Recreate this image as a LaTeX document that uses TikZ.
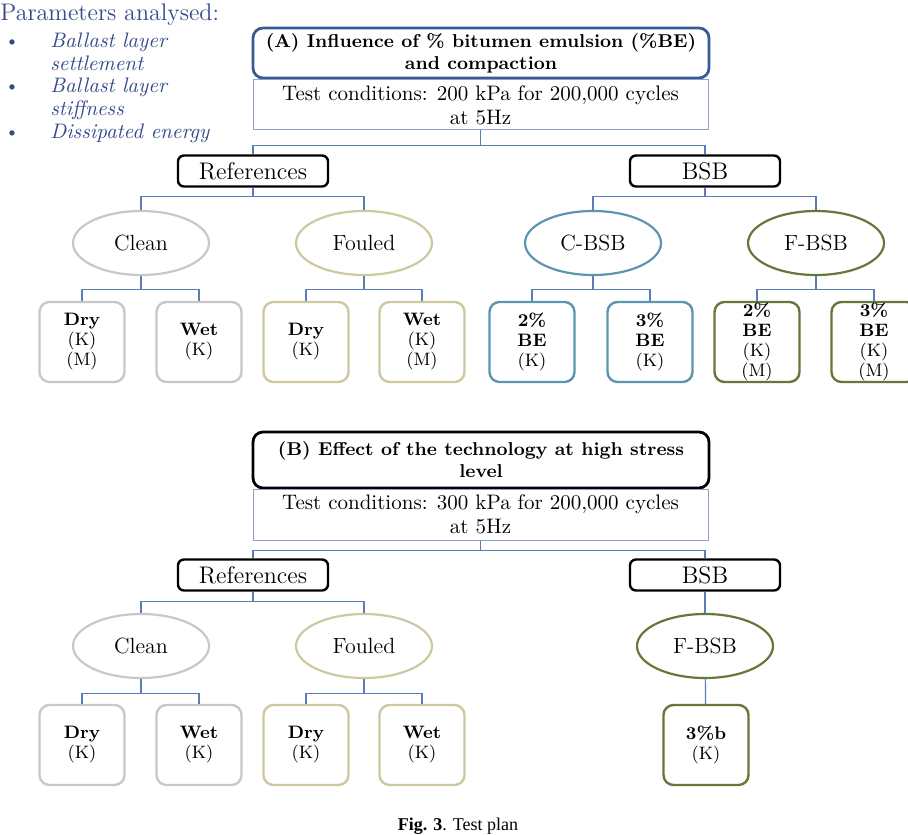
\documentclass[tikz,border=0pt]{standalone}
\usepackage{fontspec}
\newfontfamily\capfont{Liberation Serif}
\usetikzlibrary{positioning, shapes.geometric}

\definecolor{navy}{HTML}{34498A}
\definecolor{linkblue}{HTML}{5A7DB5}
\definecolor{condblue}{HTML}{8DA2C8}
\definecolor{headblue}{HTML}{3A5A96}
\definecolor{cleangray}{HTML}{C8C8C8}
\definecolor{fouledtan}{HTML}{CEC8A0}
\definecolor{cbsbteal}{HTML}{5C95AE}
\definecolor{fbsbolive}{HTML}{65783A}

\begin{document}
\begin{tikzpicture}[x=0.5pt, y=-0.5pt,
    link/.style={draw=linkblue, line width=0.6pt},
    head/.style={draw=#1, rounded corners=5pt, line width=1.4pt, minimum width=228pt,
        inner sep=1pt, align=center, font=\fontsize{9.3}{11}\selectfont\bfseries},
    cond/.style={draw=condblue, line width=0.5pt, minimum width=227.5pt, minimum height=25pt,
        inner sep=1pt, align=center, font=\fontsize{10.5}{12}\selectfont},
    group/.style={draw=black, rounded corners=3pt, line width=1.2pt, minimum width=75pt,
        minimum height=15.5pt, inner sep=0pt, font=\fontsize{12}{13}\selectfont},
    kind/.style={ellipse, draw=#1, line width=1.1pt, minimum width=68pt, minimum height=32pt,
        inner sep=0pt, font=\fontsize{11}{12}\selectfont},
    leaf/.style={draw=#1, rounded corners=5pt, line width=1.2pt, minimum width=42.5pt,
        minimum height=40pt, inner sep=0pt, align=center, font=\fontsize{9}{10}\selectfont},
    param/.style={anchor=north west, align=left, inner sep=0pt, text=navy,
        font=\fontsize{10.5}{11.5}\selectfont\itshape},
    dot/.style={text=navy, inner sep=0pt, font=\fontsize{9}{10}\selectfont}]
    \useasboundingbox (0,0) rectangle (908,834);

    % parameters analysed
    \node[anchor=west, inner sep=0pt, text=navy, font=\fontsize{12}{13}\selectfont] (params) at (0,15) {Parameters analysed:};
    \node[dot] (d1) at (12,43) {\textbullet};
    \node[dot] (d2) at (12,88) {\textbullet};
    \node[dot] (d3) at (12,134) {\textbullet};
    \node[param] (p1) at (50,33) {Ballast layer\\settlement};
    \node[param] (p2) at (50,78) {Ballast layer\\stiffness};
    \node[param] (p3) at (50,124) {Dissipated energy};

    % (A)
    \node[head=headblue, minimum height=25pt] (headA) at (481,53) {(A) Influence of \% bitumen emulsion (\%BE)\\and compaction};
    \node[cond] (condA) at (480.5,105) {Test conditions: 200 kPa for 200,000 cycles\\at 5Hz};
    \node[group] (refA) at (253,171) {References};
    \node[group] (bsbA) at (705,171) {BSB};
    \node[kind=cleangray] (cleanA) at (141,243) {Clean};
    \node[kind=fouledtan] (fouledA) at (364,243) {Fouled};
    \node[kind=cbsbteal] (cbsbA) at (593,243) {C-BSB};
    \node[kind=fbsbolive] (fbsbA) at (816,243) {F-BSB};
    \node[leaf=cleangray] (cdryA) at (82,342) {\textbf{Dry}\\(K)\\(M)};
    \node[leaf=cleangray] (cwetA) at (199,342) {\textbf{Wet}\\(K)};
    \node[leaf=fouledtan] (fdryA) at (306,342) {\textbf{Dry}\\(K)};
    \node[leaf=fouledtan] (fwetA) at (422,342) {\textbf{Wet}\\(K)\\(M)};
    \node[leaf=cbsbteal] (c2A) at (532,342) {\textbf{2\%}\\\textbf{BE}\\(K)};
    \node[leaf=cbsbteal] (c3A) at (650,342) {\textbf{3\%}\\\textbf{BE}\\(K)};
    \node[leaf=fbsbolive] (f2A) at (757,342) {\textbf{2\%}\\\textbf{BE}\\(K)\\(M)};
    \node[leaf=fbsbolive] (f3A) at (874,342) {\textbf{3\%}\\\textbf{BE}\\(K)\\(M)};

    \draw[link] (condA.south) -- ++(0,15) -| (refA.north);
    \draw[link] (condA.south) -- ++(0,15) -| (bsbA.north);
    \draw[link] (refA.south) -- ++(0,9) -| (cleanA.north);
    \draw[link] (refA.south) -- ++(0,9) -| (fouledA.north);
    \draw[link] (bsbA.south) -- ++(0,9) -| (cbsbA.north);
    \draw[link] (bsbA.south) -- ++(0,9) -| (fbsbA.north);
    \draw[link] (cleanA.south) -- ++(0,13) -| (cdryA.north);
    \draw[link] (cleanA.south) -- ++(0,13) -| (cwetA.north);
    \draw[link] (fouledA.south) -- ++(0,13) -| (fdryA.north);
    \draw[link] (fouledA.south) -- ++(0,13) -| (fwetA.north);
    \draw[link] (cbsbA.south) -- ++(0,13) -| (c2A.north);
    \draw[link] (cbsbA.south) -- ++(0,13) -| (c3A.north);
    \draw[link] (fbsbA.south) -- ++(0,13) -| (f2A.north);
    \draw[link] (fbsbA.south) -- ++(0,13) -| (f3A.north);

    % (B)
    \node[head=black, minimum height=28pt] (headB) at (481,460) {(B) Effect of the technology at high stress\\level};
    \node[cond, minimum height=25.5pt] (condB) at (480.5,514.5) {Test conditions: 300 kPa for 200,000 cycles\\at 5Hz};
    \node[group] (refB) at (253,575) {References};
    \node[group] (bsbB) at (705,575) {BSB};
    \node[kind=cleangray] (cleanB) at (141,646) {Clean};
    \node[kind=fouledtan] (fouledB) at (364,646) {Fouled};
    \node[kind=fbsbolive] (fbsbB) at (705,646) {F-BSB};
    \node[leaf=cleangray] (cdryB) at (82,745) {\textbf{Dry}\\(K)};
    \node[leaf=cleangray] (cwetB) at (199,745) {\textbf{Wet}\\(K)};
    \node[leaf=fouledtan] (fdryB) at (306,745) {\textbf{Dry}\\(K)};
    \node[leaf=fouledtan] (fwetB) at (422,745) {\textbf{Wet}\\(K)};
    \node[leaf=fbsbolive] (f3B) at (706,745) {\textbf{3\%b}\\(K)};

    \draw[link] (condB.south) -- ++(0,10) -| (refB.north);
    \draw[link] (condB.south) -- ++(0,10) -| (bsbB.north);
    \draw[link] (refB.south) -- ++(0,10) -| (cleanB.north);
    \draw[link] (refB.south) -- ++(0,10) -| (fouledB.north);
    \draw[link] (bsbB) -- (fbsbB);
    \draw[link] (cleanB.south) -- ++(0,14) -| (cdryB.north);
    \draw[link] (cleanB.south) -- ++(0,14) -| (cwetB.north);
    \draw[link] (fouledB.south) -- ++(0,14) -| (fdryB.north);
    \draw[link] (fouledB.south) -- ++(0,14) -| (fwetB.north);
    \draw[link] (fbsbB) -- (f3B);

    \node[inner sep=0pt, font=\capfont\fontsize{9}{10}\selectfont] (caption) at (458,826) {\textbf{Fig. 3}. Test plan};
\end{tikzpicture}
\end{document}
